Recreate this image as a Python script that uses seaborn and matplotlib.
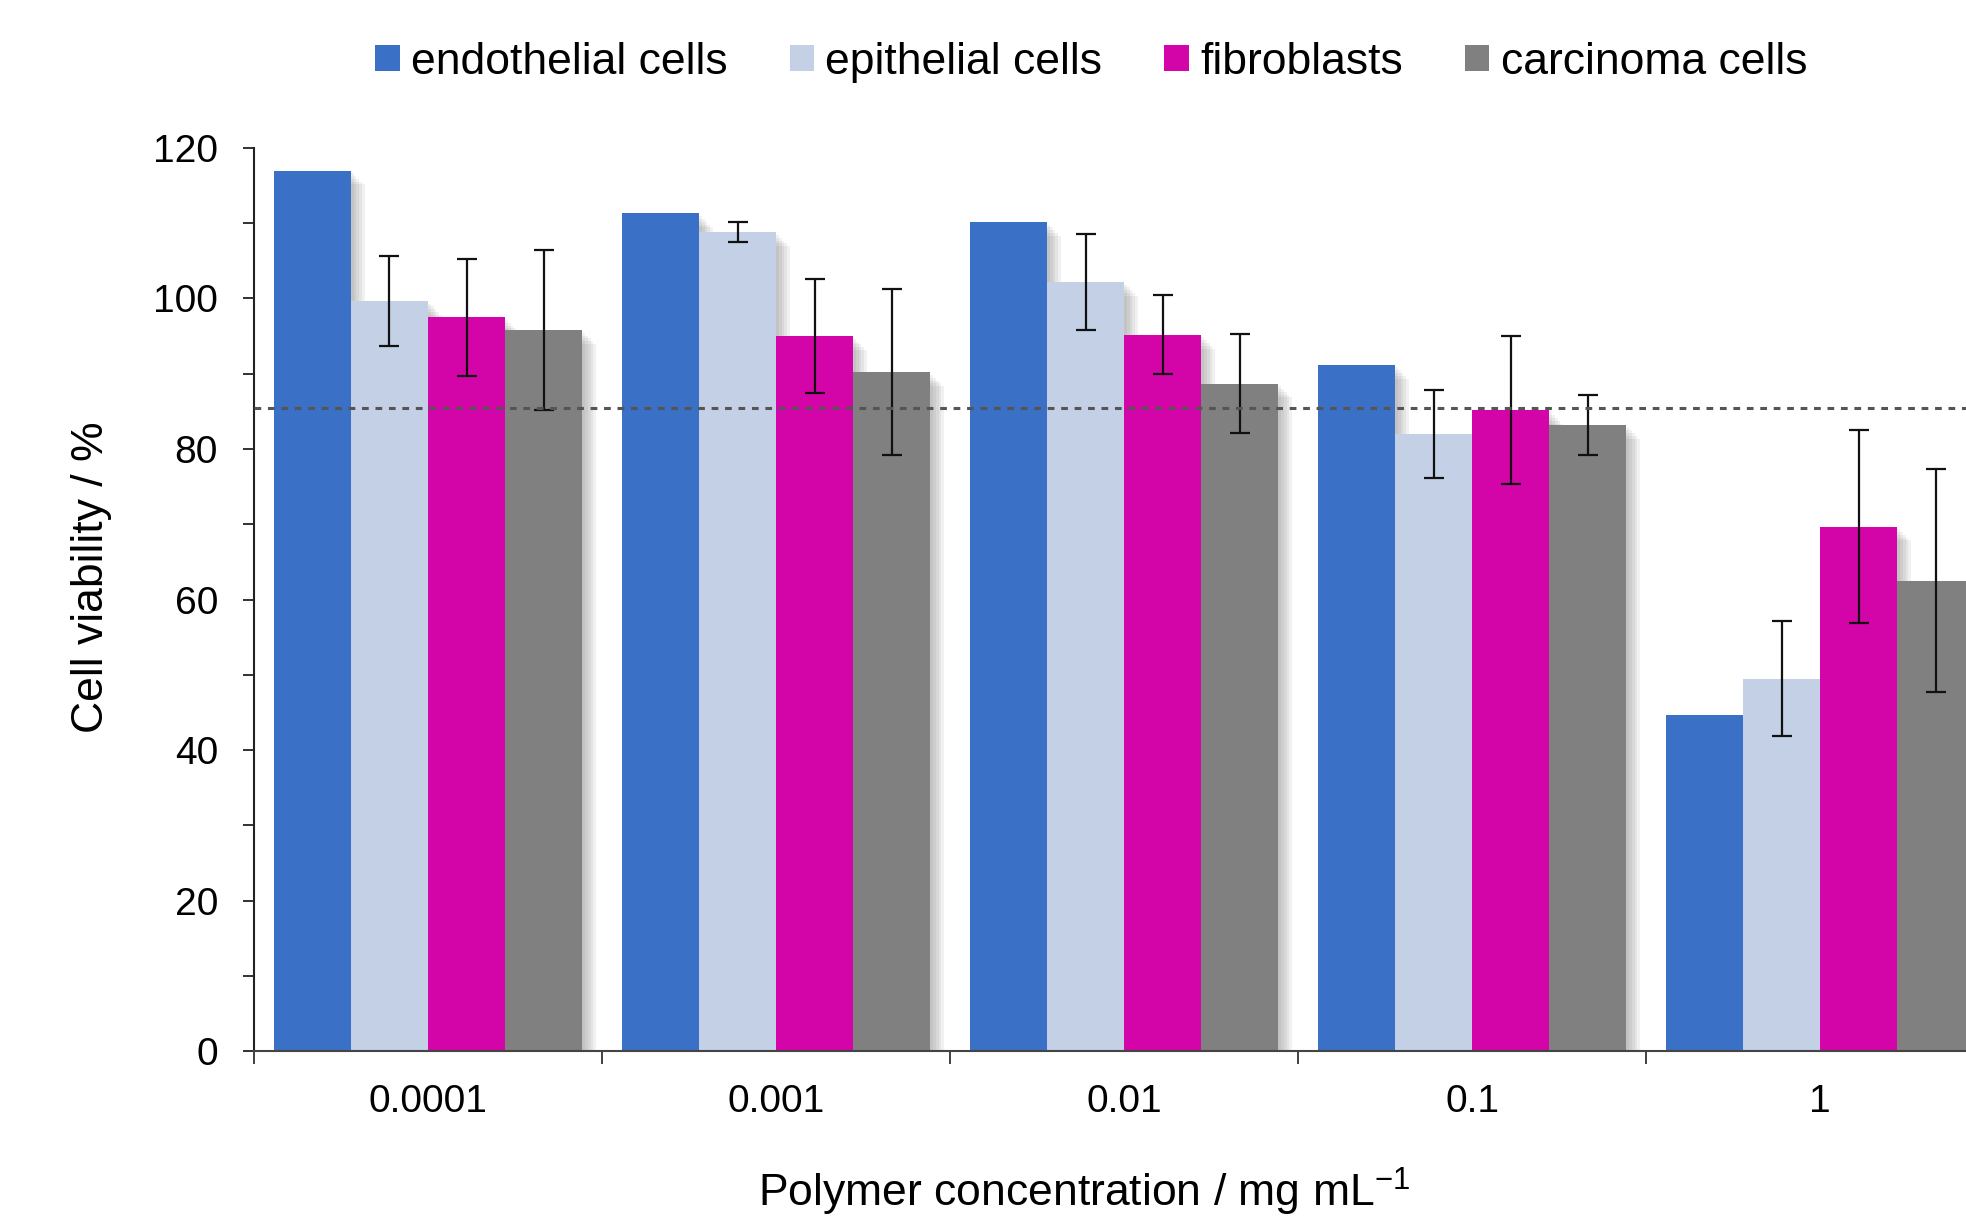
import matplotlib
matplotlib.use("Agg")
import matplotlib.pyplot as plt
import matplotlib.patheffects as pe
import pandas as pd
import seaborn as sns

# data
concentrations = ["0.0001", "0.001", "0.01", "0.1", "1"]
cell_types = ["endothelial cells", "epithelial cells", "fibroblasts", "carcinoma cells"]

endothelial = [117.0, 111.3, 110.2, 91.2, 44.7]
epithelial = [99.7, 108.8, 102.2, 82.0, 49.5]
fibroblasts = [97.5, 95.0, 95.2, 85.2, 69.7]
carcinoma = [95.8, 90.2, 88.7, 83.2, 62.5]

epithelial_err = [6.0, 1.3, 6.4, 5.8, 7.7]
fibroblasts_err = [7.8, 7.6, 5.2, 9.8, 12.8]
carcinoma_err = [10.6, 11.0, 6.6, 4.0, 14.8]

threshold = 85.5

colors = ["#3A70C6", "#C3D0E6", "#D305A9", "#808080"]

df = pd.DataFrame({
    "conc": concentrations * 4,
    "cell": [c for c in cell_types for _ in concentrations],
    "value": endothelial + epithelial + fibroblasts + carcinoma,
})
errs = [None, epithelial_err, fibroblasts_err, carcinoma_err]

sns.set_style("ticks")
plt.rcParams["font.family"] = ["Liberation Sans", "DejaVu Sans"]
plt.rcParams["mathtext.fontset"] = "custom"
plt.rcParams["mathtext.rm"] = "Liberation Sans"
plt.rcParams["mathtext.default"] = "regular"
plt.rcParams["text.color"] = "black"
plt.rcParams["axes.labelcolor"] = "black"
plt.rcParams["xtick.color"] = "black"
plt.rcParams["ytick.color"] = "black"

fig = plt.figure(figsize=(19.66, 12.22), dpi=100)
ax = fig.add_axes([0.1292, 0.1399, 0.8708, 0.739])

sns.barplot(data=df, x="conc", y="value", hue="cell", order=concentrations,
            hue_order=cell_types, palette=colors, width=0.886, errorbar=None,
            saturation=1, linewidth=0, ax=ax, legend=True)

# soft drop shadow, built from a few faint offset copies
shadow = [pe.SimplePatchShadow(offset=(d, -d), shadow_rgbFace="#666666", alpha=0.09)
          for d in (2, 4, 6, 8, 10)] + [pe.Normal()]
for cont, err in zip(ax.containers, errs):
    for bar in cont:
        bar.set_path_effects(shadow)
    if err is None:
        continue
    xs = [b.get_x() + b.get_width() / 2 for b in cont]
    hs = [b.get_height() for b in cont]
    ax.errorbar(xs, hs, yerr=err, fmt="none", ecolor="#111111",
                elinewidth=1.6, capsize=7, capthick=1.6, zorder=5)

ax.axhline(threshold, color="#555555", linestyle=(0, (2.2, 2.2)), linewidth=2.2, zorder=6)

ax.set_ylim(0, 120)
ax.set_xlim(-0.5, 4.419)
ax.set_yticks(range(0, 121, 20))
ax.set_yticks(range(10, 120, 20), minor=True)
ax.set_xticks(range(5))
ax.set_xticklabels(concentrations)
ax.set_xticks([-0.5, 0.5, 1.5, 2.5, 3.5], minor=True)

ax.tick_params(axis="x", which="major", length=0, labelsize=28, pad=24)
ax.tick_params(axis="x", which="minor", length=9, width=1.3, color="#333333")
ax.tick_params(axis="y", which="both", length=8, width=1.3, labelsize=28, pad=18, color="#222222")

for s in ["top", "right"]:
    ax.spines[s].set_visible(False)
ax.spines["left"].set_linewidth(1.5)
ax.spines["left"].set_color("#222222")
ax.spines["bottom"].set_linewidth(1.5)
ax.spines["bottom"].set_color("#444444")

ax.set_ylabel("Cell viability / %", fontsize=32)
ax.yaxis.set_label_coords(-0.083, 0.525)
ax.set_xlabel("Polymer concentration / mg mL$^{-1}$", fontsize=32)
ax.xaxis.set_label_coords(0.485, -0.127)

handles, labels = ax.get_legend_handles_labels()
ax.get_legend().remove()
fig.legend(handles, labels, loc="center", bbox_to_anchor=(0.555, 0.949), ncol=4,
           frameon=False, fontsize=32, handlelength=0.55, handleheight=0.55,
           handletextpad=0.25, columnspacing=1.4)

fig.savefig("out.png", dpi=100)
